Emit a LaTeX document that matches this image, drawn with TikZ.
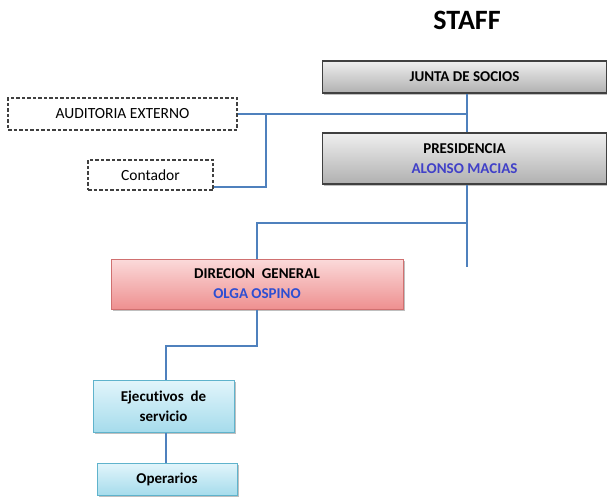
\documentclass[tikz,border=0pt]{standalone}
\usepackage{fontspec}
\setmainfont{Carlito}[Ligatures=NoCommon]
\usetikzlibrary{shadows}
\definecolor{linkblue}{HTML}{4F81BD}
\definecolor{namebl}{HTML}{4040C8}
\definecolor{namebl2}{HTML}{2D4ED2}
\definecolor{grtop}{HTML}{EFEFEF}
\definecolor{grbot}{HTML}{B0B0B0}
\definecolor{pktop}{HTML}{FBDADA}
\definecolor{pkbot}{HTML}{EE9090}
\definecolor{pkline}{HTML}{D07070}
\definecolor{cytop}{HTML}{E2F5FB}
\definecolor{cybot}{HTML}{A6DCEC}
\definecolor{cyline}{HTML}{5FB3CC}
\tikzset{
  base/.style={rectangle, inner sep=0pt, align=center, font=\fontsize{15}{20}\selectfont\bfseries,
    drop shadow={shadow xshift=1.5pt, shadow yshift=-2pt, fill=black!50}},
  graybox/.style={base, draw=black!75, line width=1.2pt, top color=grtop, bottom color=grbot},
  pinkbox/.style={base, draw=pkline, line width=1pt, top color=pktop, bottom color=pkbot},
  cyanbox/.style={base, draw=cyline, line width=1pt, top color=cytop, bottom color=cybot},
  dashbox/.style={rectangle, draw=black!75, dash pattern=on 3.5pt off 2pt, line width=1.2pt,
    inner sep=0pt, align=center, font=\fontsize{15.5}{20}\selectfont},
  link/.style={draw=linkblue, line width=2pt},
}
\begin{document}
\begin{tikzpicture}[x=1pt, y=-1pt]
\useasboundingbox (0,0) rectangle (607,497);
\node[font=\fontsize{28}{30}\selectfont\bfseries] (staff) at (467,20) {STAFF};
\node[graybox, minimum width=284pt, minimum height=32pt] (junta) at (464.5,77) {JUNTA DE SOCIOS};
\node[graybox, minimum width=284pt, minimum height=51pt] (pres) at (464.5,158.5)
  {PRESIDENCIA\\\textcolor{namebl}{ALONSO MACIAS}};
\node[dashbox, minimum width=229pt, minimum height=32pt] (audit) at (122.5,114) {AUDITORIA EXTERNO};
\node[dashbox, minimum width=125pt, minimum height=30pt] (cont) at (150.5,175) {Contador};
\node[pinkbox, minimum width=292pt, minimum height=50pt] (dir) at (257,284)
  {DIRECION\ \ GENERAL\\\textcolor{namebl2}{OLGA OSPINO}};
\node[cyanbox, minimum width=141pt, minimum height=52pt] (ejec) at (163.5,406)
  {Ejecutivos\ \ de\\servicio};
\node[cyanbox, minimum width=140pt, minimum height=32pt] (oper) at (167,479) {Operarios};

\coordinate (j1) at (467,114);
\coordinate (j2) at (266,114);
\coordinate (c1) at (266,187);
\coordinate (p1) at (467,223);
\coordinate (p2) at (467,267);
\coordinate (d0) at (257,223);
\coordinate (d1) at (257,346);
\coordinate (e0) at (166,346);

\draw[link] (junta.south -| j1) -- (pres.north -| j1);
\draw[link] (audit.east) -- (j1);
\draw[link] (cont.east |- c1) -- (c1) -- (j2);
\draw[link] (pres.south -| p1) -- (p2);
\draw[link] (p1) -- (d0) -- (dir.north -| d0);
\draw[link] (dir.south -| d1) -- (d1) -- (e0) -- (ejec.north -| e0);
\draw[link] (ejec.south -| e0) -- (oper.north -| e0);
\end{tikzpicture}
\end{document}
